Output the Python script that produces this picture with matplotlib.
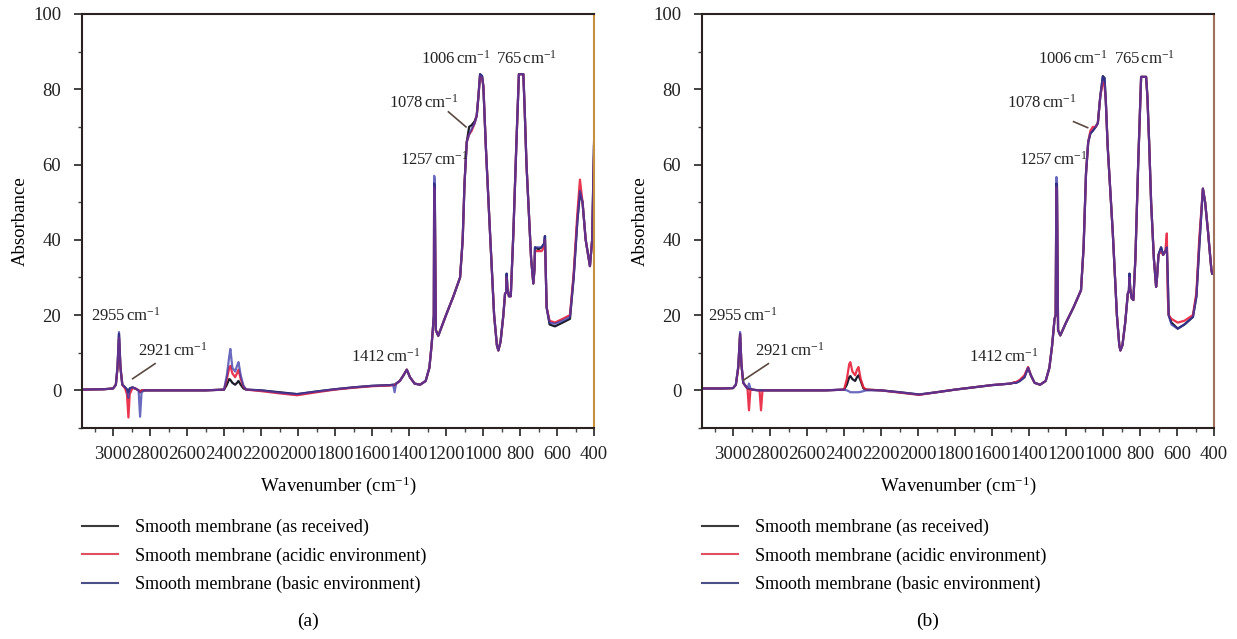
import matplotlib
matplotlib.use("Agg")
import matplotlib.pyplot as plt
from matplotlib.lines import Line2D
from matplotlib.ticker import MultipleLocator

plt.rcParams['font.family'] = ['Liberation Serif', 'DejaVu Serif']
plt.rcParams['mathtext.fontset'] = 'custom'
plt.rcParams['mathtext.rm'] = 'Liberation Serif'
plt.rcParams['mathtext.it'] = 'Liberation Serif:italic'

# ---- panel (a) ----
wn_a = [3175, 3050, 3000, 2985, 2976, 2968, 2960, 2950, 2935, 2925,
        2917, 2910, 2895, 2880, 2862, 2854, 2846, 2830, 2700, 2500,
        2400, 2385, 2372, 2366, 2355, 2340, 2330, 2322, 2310, 2295,
        2280, 2200, 2100, 2005, 1900, 1800, 1700, 1600, 1500, 1486,
        1478, 1470, 1450, 1430, 1412, 1395, 1370, 1340, 1310, 1290,
        1278, 1270, 1266, 1264, 1261, 1255, 1242, 1200, 1160, 1124,
        1110, 1100, 1088, 1075, 1061, 1045, 1034, 1025, 1016, 1005,
        998, 985, 962, 940, 925, 917, 905, 890, 881, 875,
        872, 868, 860, 850, 836, 820, 806, 782, 775, 765,
        755, 740, 728, 722, 719, 700, 683, 670, 665, 660,
        656, 640, 611, 570, 530, 510, 490, 476, 462, 445,
        422, 410, 400]
black_a = [0.2, 0.3, 0.5, 1.5, 6, 15, 6, 1.5, 0.8, 0.2,
           -0.5, 0.5, 0.8, 0.5, 0, -0.5, 0, 0, 0, 0,
           0.2, 1.5, 3, 2.8, 2, 1.5, 2, 2.5, 1.5, 0.5,
           0.2, 0, -0.5, -1.0, -0.3, 0.3, 0.8, 1.2, 1.4, 1.5,
           1.5, 1.8, 2.5, 4, 5.5, 3.5, 1.8, 1.5, 2.5, 6,
           12, 17, 20, 55, 54, 16, 14.5, 20, 25, 30,
           40, 55, 66, 70, 70.5, 71.5, 73, 78, 84, 83.5,
           80.5, 65, 41.7, 20, 12, 10.6, 13, 20, 25.7, 26,
           31, 27, 25, 25, 41.7, 65, 84, 84, 75, 60,
           50, 35, 28.4, 32, 38, 37.5, 38, 39, 41, 30,
           22, 17.5, 17, 18, 19, 30, 45, 52.5, 50, 40,
           33, 40, 65]
red_a = [0.2, 0.3, 0.5, 1.5, 6, 14, 6, 1.5, 0.5, -1,
         -7.2, -1, 0.6, 0.5, 0, -0.5, 0, 0, 0, 0,
         0.2, 3, 6, 6.5, 4.5, 3.5, 4.5, 5.5, 3, 1,
         0.2, -0.2, -0.8, -1.3, -0.5, 0.2, 0.7, 1.1, 1.3, 1.4,
         1.4, 1.7, 2.5, 4, 5.5, 3.5, 1.8, 1.5, 2.5, 6,
         12, 17, 19, 54, 53, 16, 14.5, 20, 25, 30,
         40, 55, 66, 68, 69, 71, 73, 78, 83.5, 83,
         81, 65, 41.7, 20, 12, 10.6, 13, 20, 25.7, 26,
         30, 27, 25, 25, 41.7, 65, 84, 84, 75, 60,
         50, 35, 28.4, 32, 37, 37, 37, 38, 40, 30,
         22, 18.5, 18, 19, 20, 31, 47, 56, 50, 40,
         33, 40, 62]
blue_a = [0.2, 0.3, 0.5, 1.5, 6.5, 15.5, 6, 1.5, 0.8, 0.3,
          -2, 0.5, 0.8, 0.5, 0, -7, -0.5, 0, 0, 0,
          0.2, 4, 9, 11, 6, 5, 6.5, 7.5, 4, 1.2,
          0.2, 0, -0.6, -1.0, -0.3, 0.3, 0.8, 1.2, 1.4, 1.5,
          -0.5, 1.8, 2.5, 4, 5.5, 3.5, 1.8, 1.5, 2.5, 6,
          12, 17, 20, 57, 56, 16, 14.5, 20, 25, 30,
          40, 55, 66, 68, 69.5, 71, 73, 78, 84, 83.5,
          80.7, 65, 41.7, 20, 12, 10.6, 13, 20, 25.7, 26,
          31, 27, 25, 25, 41.7, 65, 84, 84, 75, 60,
          50, 35, 28.4, 32, 38, 38, 38, 39, 41, 30,
          22, 18, 17.7, 18.5, 19.5, 30, 45, 53, 50, 40,
          33, 40, 66]

# ---- panel (b) ----
wn_b = [3175, 3050, 3000, 2985, 2972, 2962, 2955, 2945, 2930, 2922,
        2914, 2906, 2895, 2880, 2857, 2849, 2841, 2830, 2700, 2500,
        2400, 2385, 2372, 2366, 2355, 2340, 2330, 2322, 2310, 2295,
        2280, 2200, 2100, 1994, 1900, 1800, 1700, 1600, 1500, 1486,
        1478, 1470, 1450, 1425, 1405, 1390, 1370, 1340, 1310, 1290,
        1275, 1262, 1256, 1252, 1249, 1243, 1231, 1200, 1160, 1119,
        1105, 1092, 1080, 1068, 1055, 1040, 1028, 1015, 1001, 992,
        985, 975, 947, 925, 912, 906, 895, 880, 866, 860,
        857, 853, 845, 836, 825, 810, 794, 767, 760, 750,
        740, 725, 713, 708, 700, 686, 675, 663, 655, 650,
        645, 630, 596, 560, 514, 495, 480, 460, 448, 432,
        425, 414, 410]
black_b = [0.5, 0.5, 0.6, 1.5, 6, 15, 7, 2, 1, 0.5,
           0.3, 0.3, 0.2, 0.1, 0, 0, 0, 0, 0, 0,
           0.2, 1.5, 3.5, 3.8, 3, 2.5, 3.5, 4, 2.5, 0.5,
           0.2, 0, -0.5, -1.1, -0.5, 0.2, 0.8, 1.4, 1.8, 2,
           2, 2, 2.5, 3.5, 6, 4, 2, 1.5, 2.5, 6,
           12, 19, 20, 55, 54, 16, 14.6, 18, 22, 26.6,
           38, 57.6, 66, 68.3, 69, 70, 71, 78, 83.5, 83,
           77, 65, 41.7, 20, 12, 10.6, 12, 18, 25.7, 26.5,
           31, 27, 24.5, 24, 35, 60, 83.3, 83.3, 78, 65,
           50, 35, 27.5, 30, 36, 38, 36, 37, 38, 30,
           20, 18, 16.4, 17.5, 19.5, 25, 38, 53.6, 50, 42,
           38, 32, 31]
red_b = [0.5, 0.5, 0.6, 1.5, 6, 15, 7, 2, 1, 0.5,
         -5.3, 0.3, 0.2, 0.1, 0, -5.3, 0, 0, 0, 0,
         0.2, 3, 7, 7.5, 5, 4, 5.5, 6.2, 3, 0.8,
         0.2, 0, -0.6, -1.2, -0.5, 0.2, 0.8, 1.4, 1.8, 2,
         2.2, 2.2, 2.8, 4, 6.2, 4, 2, 1.5, 2.5, 6,
         12, 19, 20, 54, 53, 16, 14.6, 18, 22, 26.6,
         38, 57.6, 66, 69, 70, 70, 71, 78, 82, 81,
         77, 65, 41.7, 20, 12, 10.6, 12, 18, 25.7, 26.5,
         30, 27, 24.5, 24, 35, 60, 83.3, 83.3, 78, 65,
         50, 35, 27.5, 30, 36, 37, 36, 37, 41.7, 25,
         20, 19, 18, 18.5, 20, 26, 40, 53.6, 50, 42,
         38, 32, 31]
blue_b = [0.5, 0.5, 0.6, 1.5, 6.5, 15.5, 7, 2, 1, 0.5,
          1.8, 0.5, 0.2, 0.1, 0, 0, 0, 0, 0, 0,
          0.2, 0, -0.3, -0.5, -0.5, -0.5, -0.5, -0.5, -0.4, -0.2,
          0, 0, -0.5, -1.1, -0.5, 0.2, 0.8, 1.4, 1.8, 2,
          2, 2, 2.5, 3.5, 6, 4, 2, 1.5, 2.5, 6,
          12, 19, 20, 56.7, 55.5, 16, 14.6, 18, 22, 26.6,
          38, 57.6, 66, 68.3, 69, 70, 71, 78, 83.3, 83,
          77, 65, 41.7, 20, 12, 10.6, 12, 18, 25.7, 26.5,
          31, 27, 24.5, 24, 35, 60, 83.3, 83.3, 78, 65,
          50, 35, 27.5, 30, 36, 38, 36, 37, 38, 30,
          20, 17.5, 16.4, 17.5, 19.5, 25, 38, 53.6, 50, 42,
          38, 32, 31]

series_labels = ['Smooth membrane (as received)',
                 'Smooth membrane (acidic environment)',
                 'Smooth membrane (basic environment)']
trace_colors = ['#1c1c2c', '#e8203c', '#3838a8']
legend_colors = ['#3a3a3a', '#e05062', '#4a4f88']

# peak labels: text, text x, text y, optional pointer (x0, y0, x1, y1)
peaks_a = [('2955', 2930, 19.7, None),
           ('2921', 2676, 10.6, (2773, 7.1, 2894, 3.1)),
           ('1412', 1524, 8.8, None),
           ('1257', 1265, 61.2, None),
           ('1078', 1319, 76.4, (1187, 74, 1092, 70)),
           ('1006', 1146, 88.2, None),
           ('765', 762, 88.2, None)]
peaks_b = [('2955', 2946, 19.9, None),
           ('2921', 2696, 10.6, (2809, 7.1, 2944, 2.7)),
           ('1412', 1539, 9.0, None),
           ('1257', 1268, 61.2, None),
           ('1078', 1330, 76.4, (1159, 71.4, 1083, 69.8)),
           ('1006', 1163, 88.2, None),
           ('765', 778, 88.2, None)]

W, H = 1237, 639
fig = plt.figure(figsize=(W / 100, H / 100), dpi=100)


def draw_panel(left_px, wn, ys, peaks, right_color, tag):
    ax = fig.add_axes([left_px / W, 1 - 428 / H, 512 / W, 414 / H])
    ax.plot(wn, ys[0], color=trace_colors[0], lw=1.6)
    ax.plot(wn, ys[1], color=trace_colors[1], lw=1.6, alpha=0.9)
    ax.plot(wn, ys[2], color=trace_colors[2], lw=1.6, alpha=0.75)
    ax.set_xlim(3168, 400)
    ax.set_ylim(-10, 100)
    ax.set_xticks(range(3000, 399, -200))
    ax.xaxis.set_minor_locator(MultipleLocator(100))
    ax.set_yticks(range(0, 101, 20))
    ax.yaxis.set_minor_locator(MultipleLocator(10))
    ax.tick_params(axis='both', which='major', direction='out', length=6,
                   width=1.2, labelsize=13.5, colors='#222222')
    ax.tick_params(axis='x', which='major', pad=7)
    ax.tick_params(axis='y', which='major', pad=9)
    ax.tick_params(axis='both', which='minor', direction='out', length=3,
                   width=1.0, colors='#444444')
    for s in ['left', 'bottom', 'top']:
        ax.spines[s].set_color('#2a2220')
        ax.spines[s].set_linewidth(1.5)
    ax.spines['right'].set_color(right_color)
    ax.spines['right'].set_linewidth(1.5)
    ax.set_xlabel('Wavenumber (cm$^{-1}$)', fontsize=13.5, labelpad=8)
    ax.set_ylabel('Absorbance', fontsize=13.5, labelpad=3)
    for txt, tx, ty, ptr in peaks:
        ax.text(tx, ty, r'$\mathrm{' + txt + r'\,cm^{-1}}$', fontsize=12,
                ha='center', va='center', color='#222222')
        if ptr:
            ax.plot([ptr[0], ptr[2]], [ptr[1], ptr[3]], color='#5a4a40', lw=1.2)
    handles = [Line2D([], [], color=c, lw=1.5) for c in legend_colors]
    fig.legend(handles, series_labels, loc='upper left',
               bbox_to_anchor=(left_px / W, 1 - 519 / H), frameon=False,
               fontsize=13, handlelength=2.0, handletextpad=0.95,
               labelspacing=0.62, borderpad=0, borderaxespad=0)
    fig.text((left_px + 256 - 30) / W, 1 - 621 / H, tag, fontsize=14,
             ha='center', va='center')
    return ax


draw_panel(82, wn_a, [black_a, red_a, blue_a], peaks_a, '#c8903c', '(a)')
draw_panel(702, wn_b, [black_b, red_b, blue_b], peaks_b, '#a0705a', '(b)')

fig.savefig('out.png', dpi=100)
